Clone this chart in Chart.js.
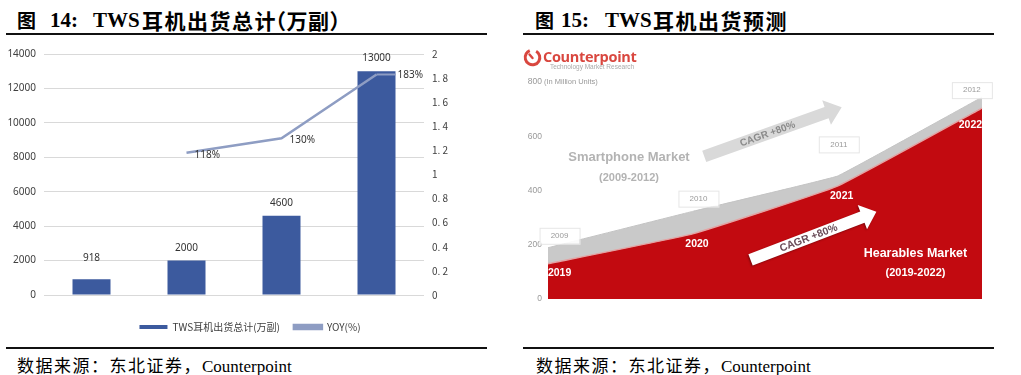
<!DOCTYPE html>
<html><head><meta charset="utf-8">
<script src="https://cdn.jsdelivr.net/npm/chart.js@4.4.1/dist/chart.umd.min.js"></script>
<style>
body{margin:0;width:1021px;height:375px;background:#fff;position:relative;overflow:hidden;font-family:"Noto Sans CJK SC",sans-serif;}
.t{position:absolute;top:8px;font-size:21px;font-weight:bold;line-height:24px;color:#000;white-space:nowrap;}
.lat{font-family:"Liberation Serif",serif;}
.cjk{font-family:"Noto Sans CJK SC",sans-serif;}
.rule{position:absolute;height:2px;background:#111;}
.src{position:absolute;top:355px;font-size:17px;line-height:20px;color:#000;white-space:nowrap;font-family:"Liberation Serif","Noto Sans CJK SC",serif;}
.src .c{font-family:"Noto Sans CJK SC";letter-spacing:1.5px;}
#c1{position:absolute;left:0;top:40px;}
#c2{position:absolute;left:510px;top:40px;}
</style>
</head><body>
<div class="t cjk" style="left:17px;font-size:19px">图</div>
<div class="t lat" style="left:50px">14:</div>
<div class="t lat" style="left:93px">TWS</div>
<div class="t cjk" style="left:142px;letter-spacing:1.5px">耳机出货总计</div>
<div class="t cjk" style="left:265px;letter-spacing:0.5px">（万副）</div>
<div class="rule" style="left:6px;top:33px;width:481px"></div>

<div class="t cjk" style="left:535px;font-size:19px">图</div>
<div class="t lat" style="left:561px">15:</div>
<div class="t lat" style="left:605px">TWS</div>
<div class="t cjk" style="left:653px;letter-spacing:1.5px">耳机出货预测</div>
<div class="rule" style="left:523px;top:33px;width:471px"></div>

<div class="rule" style="left:6px;top:347px;width:481px"></div>
<div class="rule" style="left:523px;top:347px;width:471px"></div>
<div class="src" style="left:17px"><span class="c">数据来源：东北证券，</span>Counterpoint</div>
<div class="src" style="left:536px"><span class="c">数据来源：东北证券，</span>Counterpoint</div>

<canvas id="c1" width="500" height="302"></canvas>
<canvas id="c2" width="511" height="300"></canvas>

<svg style="position:absolute;left:523px;top:48px" width="19" height="19" viewBox="0 0 19 19"><circle cx="9.5" cy="9.5" r="7.3" fill="none" stroke="#D9473F" stroke-width="3" stroke-dasharray="39 7" transform="rotate(-60 9.5 9.5)"/><line x1="9.5" y1="10" x2="6.5" y2="6.5" stroke="#D9473F" stroke-width="2.4" stroke-linecap="round"/></svg>
<div style="position:absolute;left:543px;top:47px;font:bold 14.5px 'Open Sans',sans-serif;line-height:20px;color:#D9473F;letter-spacing:-0.3px">Counterpoint</div>
<div style="position:absolute;left:550px;top:63px;font:6.5px 'Liberation Sans',sans-serif;line-height:8px;color:#aaa">Technology Market Research</div>

<script>
// ---------- Figure 14 data ----------
const years = ['2016', '2017', '2018', '2019'];
const shipments = [918, 2000, 4600, 13000];
const yoy = [null, 1.18, 1.30, 1.83];
const yoyText = [null, '118%', '130%', '183%'];
const rightTickLabels = ['0', '0. 2', '0. 4', '0. 6', '0. 8', '1', '1. 2', '1. 4', '1. 6', '1. 8', '2'];
const barName = 'TWS耳机出货总计(万副)';
const lineName = 'YOY(%)';

// ---------- Figure 15 data ----------
const phoneYears = ['2009', '2010', '2011', '2012'];
const phoneUnits = [189, 323, 453, 744];
const hearYears = ['2019', '2020', '2021', '2022'];
const hearUnits = [130, 240, 416, 704];
const phoneName = 'Smartphone Market';
const hearName = 'Hearables Market';
const cagrText = 'CAGR +80%';

// ---------- Figure 14 ----------
// label placement (pixels): value-label lift above bar, yoy label shift to the right
const barLabelLift = [21, 12, 13, 13];
const yoyLabelShift = [0, 8, 8, 21];

const labels14 = {
  id: 'labels14',
  afterDatasetsDraw(chart) {
    const ctx = chart.ctx;
    ctx.save();
    ctx.font = '10px "Noto Sans", sans-serif';
    ctx.fillStyle = '#333';
    ctx.textAlign = 'center';
    ctx.textBaseline = 'middle';
    chart.getDatasetMeta(0).data.forEach((el, i) => {
      ctx.fillText(String(shipments[i]), el.x, el.y - barLabelLift[i]);
    });
    ctx.textAlign = 'left';
    chart.getDatasetMeta(1).data.forEach((el, i) => {
      if (!yoyText[i]) return;
      const dx = yoyLabelShift[i];
      if (dx > 12) {
        ctx.strokeStyle = '#8E9DC3';
        ctx.lineWidth = 2;
        ctx.beginPath();
        ctx.moveTo(el.x, el.y);
        ctx.lineTo(el.x + dx - 2, el.y);
        ctx.stroke();
        ctx.fillText(yoyText[i], el.x + dx, el.y + 1);
      } else {
        ctx.fillText(yoyText[i], el.x + dx, el.y + 2);
      }
    });
    ctx.restore();
  }
};

new Chart(document.getElementById('c1'), {
  type: 'bar',
  data: {
    labels: years,
    datasets: [
      { type: 'bar', label: barName, data: shipments, yAxisID: 'y', backgroundColor: '#3C5A9E',
        barPercentage: 0.4, categoryPercentage: 1, order: 1 },
      { type: 'line', label: lineName, data: yoy, yAxisID: 'y1', borderColor: '#8E9DC3', backgroundColor: '#8E9DC3',
        borderWidth: 2.5, pointRadius: 0, tension: 0, order: 0 }
    ]
  },
  options: {
    responsive: false, animation: false,
    layout: { padding: { top: 12, left: 0, right: 0, bottom: 0 } },
    plugins: {
      tooltip: { enabled: false },
      legend: {
        position: 'bottom',
        labels: { boxWidth: 28, boxHeight: 4, padding: 14, color: '#404040',
          font: { size: 10, family: '"Noto Sans CJK SC", sans-serif' },
          sort: (a, b) => a.datasetIndex - b.datasetIndex }
      }
    },
    scales: {
      x: { grid: { display: false }, border: { display: false },
        ticks: { color: '#404040', font: { size: 10, family: '"Noto Sans", sans-serif' }, padding: 7 },
        afterFit(s) { s.height = 13; } },
      y: { position: 'left', min: 0, max: 14000,
        ticks: { stepSize: 2000, color: '#404040', font: { size: 10, family: '"Noto Sans", sans-serif' }, padding: 8,
          callback: (v) => String(v) },
        grid: { color: '#D9D9D9', drawTicks: false }, border: { display: false },
        afterFit(s) { s.width = 44; } },
      y1: { position: 'right', min: 0, max: 2,
        ticks: { stepSize: 0.2, color: '#404040', font: { size: 10, family: '"Noto Sans CJK SC", sans-serif' }, padding: 8,
          callback: (v, i) => rightTickLabels[i] },
        grid: { display: false, drawTicks: false }, border: { display: false },
        afterFit(s) { s.width = 76; } }
    }
  },
  plugins: [labels14]
});

// ---------- Figure 15 ----------
// annotation placement in data space (x = category index, y = million units)
const phoneTagPos = [[0.08, 233], [1.04, 370], [2.01, 570], [2.93, 770]];
const hearTagPos = [[0.08, 96], [1.03, 204], [2.03, 381], [2.92, 641]];
const greyArrow = { from: [1.08, 526], to: [2.03, 707] };
const whiteArrow = { from: [1.40, 144], to: [2.27, 322] };

function drawArrow(ctx, x1, y1, x2, y2, sw, hw, hl, fill, text, textColor, font) {
  const ang = Math.atan2(y2 - y1, x2 - x1);
  const len = Math.hypot(x2 - x1, y2 - y1);
  ctx.save();
  ctx.translate(x1, y1);
  ctx.rotate(ang);
  ctx.beginPath();
  ctx.moveTo(0, -sw / 2);
  ctx.lineTo(len - hl, -sw / 2);
  ctx.lineTo(len - hl, -hw / 2);
  ctx.lineTo(len, 0);
  ctx.lineTo(len - hl, hw / 2);
  ctx.lineTo(len - hl, sw / 2);
  ctx.lineTo(0, sw / 2);
  ctx.closePath();
  ctx.fillStyle = fill;
  ctx.fill();
  ctx.shadowColor = 'transparent';
  ctx.fillStyle = textColor;
  ctx.font = font;
  ctx.textAlign = 'center';
  ctx.textBaseline = 'middle';
  ctx.fillText(text, len * 0.46, 0.5);
  ctx.restore();
}

const annot15 = {
  id: 'annot15',
  afterDatasetsDraw(chart) {
    const { ctx, scales: { x, y }, chartArea } = chart;
    const P = (p) => [x.getPixelForValue(p[0]), y.getPixelForValue(p[1])];
    ctx.save();
    ctx.font = '7.5px "Liberation Sans", sans-serif';
    ctx.fillStyle = '#999';
    ctx.textAlign = 'left';
    ctx.textBaseline = 'middle';
    ctx.fillText('(In Million Units)', chartArea.left - 4, y.getPixelForValue(800));

    let a = P(greyArrow.from), b = P(greyArrow.to);
    drawArrow(ctx, a[0], a[1], b[0], b[1], 12, 26, 16, '#D9D9D9', cagrText, '#8A8A8A', 'bold 10px "Liberation Sans", sans-serif');
    a = P(whiteArrow.from); b = P(whiteArrow.to);
    ctx.save();
    ctx.shadowColor = 'rgba(0,0,0,0.35)';
    ctx.shadowBlur = 2;
    ctx.shadowOffsetX = -1;
    ctx.shadowOffsetY = 1;
    drawArrow(ctx, a[0], a[1], b[0], b[1], 12, 26, 15, '#FFFFFF', cagrText, '#6A4C58', 'bold 10.5px "Liberation Sans", sans-serif');
    ctx.restore();

    ctx.font = '8px "Liberation Sans", sans-serif';
    ctx.textAlign = 'center';
    phoneYears.forEach((yr, i) => {
      const [px, py] = P(phoneTagPos[i]);
      ctx.fillStyle = 'rgba(255,255,255,0.9)';
      ctx.fillRect(px - 20, py - 8, 40, 16);
      ctx.strokeStyle = '#E6E6E6';
      ctx.lineWidth = 1;
      ctx.strokeRect(px - 20 + 0.5, py - 8 + 0.5, 40, 16);
      ctx.fillStyle = '#9A9A9A';
      ctx.fillText(yr, px, py);
    });
    ctx.font = 'bold 10.5px "Liberation Sans", sans-serif';
    ctx.fillStyle = '#FFFFFF';
    hearYears.forEach((yr, i) => {
      const [px, py] = P(hearTagPos[i]);
      ctx.fillText(yr, px, py);
    });
    let p = P([0.56, 522]);
    ctx.fillStyle = '#B3B3B3';
    ctx.font = 'bold 13px "Liberation Sans", sans-serif';
    ctx.fillText(phoneName, p[0], p[1]);
    p = P([0.56, 448]);
    ctx.font = 'bold 11px "Liberation Sans", sans-serif';
    ctx.fillText('(' + phoneYears[0] + '-' + phoneYears[3] + ')', p[0], p[1]);
    p = P([2.54, 167]);
    ctx.fillStyle = '#FFFFFF';
    ctx.font = 'bold 12.5px "Liberation Sans", sans-serif';
    ctx.fillText(hearName, p[0], p[1]);
    p = P([2.54, 96]);
    ctx.font = 'bold 11px "Liberation Sans", sans-serif';
    ctx.fillText('(' + hearYears[0] + '-' + hearYears[3] + ')', p[0], p[1]);
    ctx.restore();
  }
};

new Chart(document.getElementById('c2'), {
  type: 'line',
  data: {
    labels: hearYears,
    datasets: [
      { label: hearName, data: hearUnits, fill: 'origin', backgroundColor: '#C20A10', borderColor: '#E4A3A3',
        borderWidth: 1.5, pointRadius: 0, tension: 0.1, order: 0 },
      { label: phoneName, data: phoneUnits, fill: 'origin', backgroundColor: '#C9C9C9', borderColor: '#C4C4C4',
        borderWidth: 1, pointRadius: 0, tension: 0.05, order: 1 }
    ]
  },
  options: {
    responsive: false, animation: false,
    layout: { padding: { top: 42, left: 0, right: 39, bottom: 41 } },
    plugins: { legend: { display: false }, tooltip: { enabled: false } },
    scales: {
      x: { display: false, offset: false },
      y: { min: 0, max: 800,
        ticks: { stepSize: 200, color: '#999', font: { size: 8.5, family: '"Liberation Sans", sans-serif' }, padding: 6 },
        grid: { display: false, drawTicks: false }, border: { display: false },
        afterFit(s) { s.width = 38; } }
    }
  },
  plugins: [annot15]
});
</script>
</body></html>
